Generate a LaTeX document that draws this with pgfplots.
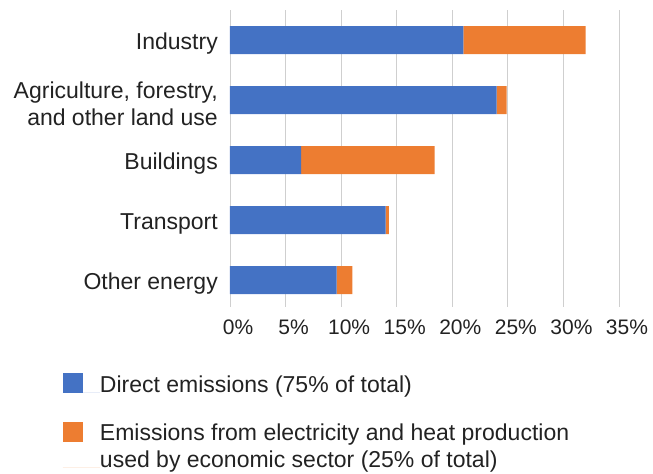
\documentclass[border=0pt]{standalone}
\usepackage{fontspec}
\setmainfont{Liberation Sans}
\usepackage{pgfplots}
\pgfplotsset{compat=1.18}
\definecolor{cblue}{HTML}{4472C4}
\definecolor{corange}{HTML}{ED7D31}
\definecolor{ctext}{HTML}{222222}
\definecolor{cgrid}{HTML}{CFCFCF}
\pgfplotsset{
  sqlegend/.style={legend image code/.code={
    \fill[##1,draw=none] (0bp,#1-1bp) rectangle (20bp,#1+19bp);
    \path (0bp,0bp) -- (37bp,0bp);}}
}
\begin{document}
\begin{tikzpicture}
\path[use as bounding box] (0bp,0bp) rectangle (653bp,-474bp);
\begin{axis}[
  at={(230bp,-307bp)}, anchor=south west,
  scale only axis, width=389bp, height=297bp,
  xbar stacked, bar width=28bp,
  xmin=0, xmax=35, ymin=-0.5, ymax=4.45, y dir=reverse,
  xtick={0,5,...,35},
  xticklabels={0\%,5\%,10\%,15\%,20\%,25\%,30\%,35\%},
  ytick={0,1,2,3,4},
  yticklabels={Industry,{Agriculture, forestry,\\and other land use},Buildings,Transport,Other energy},
  xmajorgrids, grid style={cgrid, line width=1pt},
  axis line style={draw=none},
  major tick length=0pt,
  xticklabel style={font=\fontsize{21bp}{25bp}\selectfont, text=ctext, inner sep=0pt, anchor=north, yshift=-13bp, xshift=8bp},
  yticklabel style={font=\fontsize{23bp}{27bp}\selectfont, text=ctext, inner sep=0pt, anchor=east, align=right, xshift=-12bp, yshift=-4bp},
  legend cell align=left,
  legend style={at={(axis description cs:-0.4293,-0.2222)}, anchor=north west,
    draw=none, fill=none, inner sep=0pt, outer sep=0pt, row sep=28.5bp, column sep=0pt,
    cells={anchor=base west},
    nodes={inner sep=0pt, font=\fontsize{23bp}{27bp}\selectfont, text=ctext, align=left}},
]
\addplot[fill=cblue, draw=none, sqlegend=0bp] coordinates {(21,0) (24,1) (6.4,2) (14,3) (9.6,4)};
\addplot[fill=corange, draw=none, sqlegend=27bp] coordinates {(11,0) (0.9,1) (12,2) (0.3,3) (1.4,4)};
\legend{Direct emissions (75\% of total),{Emissions from electricity and heat production\\used by economic sector (25\% of total)}}
\end{axis}
\end{tikzpicture}
\end{document}
